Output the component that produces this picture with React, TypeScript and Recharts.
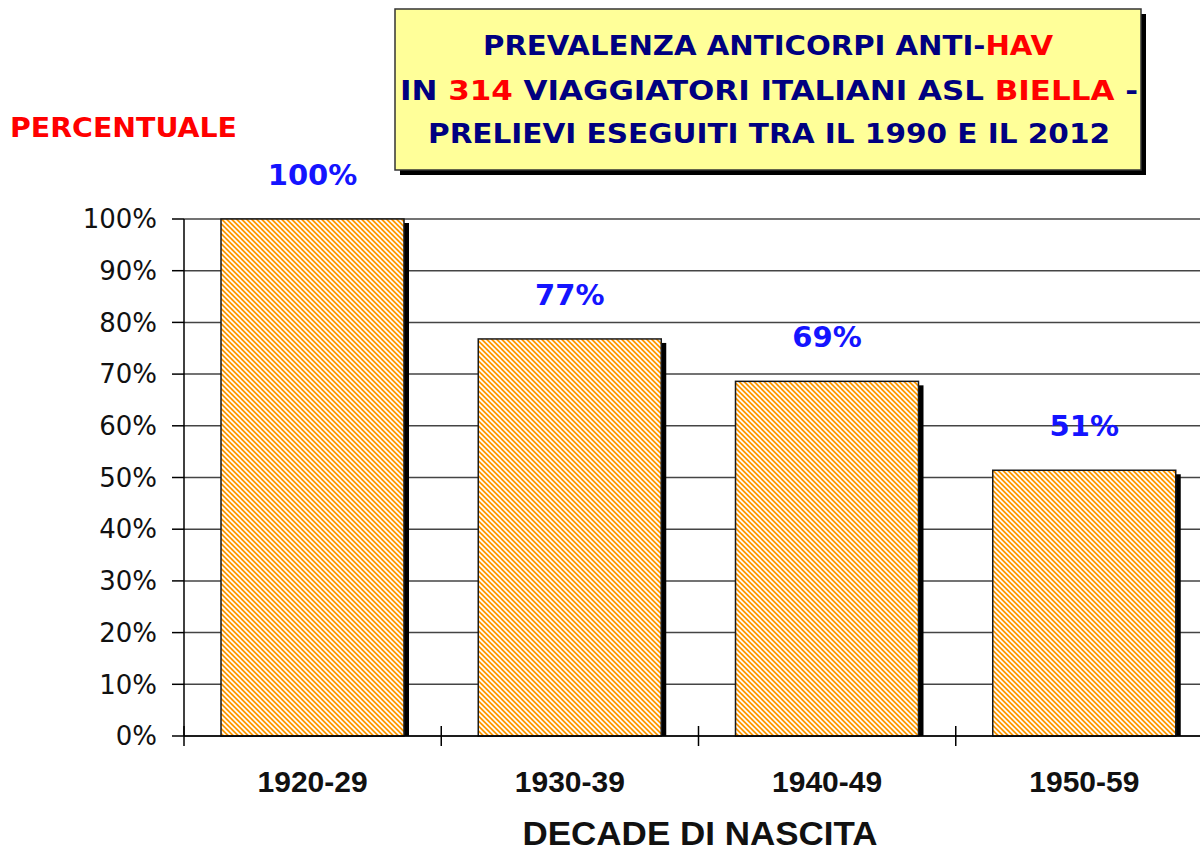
import React from 'react';
import { BarChart, Bar, XAxis, YAxis, CartesianGrid, LabelList } from 'recharts';

const categories = ['1920-29', '1930-39', '1940-49', '1950-59'];
const prevalence = [100, 76.8, 68.6, 51.4];
const valueLabels = ['100%', '77%', '69%', '51%'];
const yTicks = [0, 10, 20, 30, 40, 50, 60, 70, 80, 90, 100];

const titleLine1 = [
  { t: 'PREVALENZA ANTICORPI ANTI-', red: false },
  { t: 'HAV', red: true },
];
const titleLine2 = [
  { t: 'IN ', red: false },
  { t: '314', red: true },
  { t: ' VIAGGIATORI ITALIANI ASL ', red: false },
  { t: 'BIELLA', red: true },
  { t: ' -', red: false },
];
const titleLine3 = [{ t: 'PRELIEVI ESEGUITI TRA IL 1990 E IL 2012', red: false }];
const yAxisTitle = 'PERCENTUALE';
const xAxisTitle = 'DECADE DI NASCITA';

const data = categories.map((c, i) => ({ name: c, value: prevalence[i], label: valueLabels[i] }));

const NAVY = '#000080';
const RED = '#FF0000';

const BarShape = (props: any) => {
  const { x, y, width, height } = props;
  if (height <= 0) return null;
  return (
    <g>
      <rect x={x + 5} y={y + 4} width={width} height={height - 4} fill="#000" />
      <rect x={x} y={y} width={width} height={height} fill="url(#hatch)" stroke="#1a1a1a" strokeWidth={1.5} />
    </g>
  );
};

const XTick = (props: any) => {
  const { x, y, payload } = props;
  const off = payload && typeof payload.offset === 'number' ? payload.offset : 0;
  return (
    <g>
      <line x1={x - off} x2={x - off} y1={y - 10} y2={y + 10} stroke="#000" strokeWidth={1.5} />
      <text x={x} y={y + 56} textAnchor="middle" fontFamily="'Liberation Sans', Arial, sans-serif" fontWeight="bold" fontSize={30} fill="#111">
        {payload.value}
      </text>
    </g>
  );
};

const TopLabel = (props: any) => {
  const { x, y, width, index } = props;
  return (
    <text x={x + width / 2} y={y - 34} textAnchor="middle" fontFamily="'DejaVu Sans', sans-serif" fontWeight="bold" fontSize={29} fill="#1414FF">
      {valueLabels[index]}
    </text>
  );
};

const renderLine = (segs: { t: string; red: boolean }[], x: number, y: number, len: number) => (
  <text x={x} y={y} textAnchor="middle" textLength={len} lengthAdjust="spacingAndGlyphs" fontFamily="'DejaVu Sans', sans-serif" fontWeight="bold" fontSize={26}>
    {segs.map((s, i) => (
      <tspan key={i} fill={s.red ? RED : NAVY}>{s.t}</tspan>
    ))}
  </text>
);

export default function App() {
  return (
    <div style={{ position: 'absolute', left: 0, top: 0, width: 1200, height: 851, overflow: 'hidden', background: '#fff' }}>
      <BarChart width={1220} height={851} data={data} margin={{ top: 219, right: 7, bottom: 0, left: 0 }} barSize={183}>
        <defs>
          <pattern id="hatch" patternUnits="userSpaceOnUse" width={5} height={5}>
            <rect x={0} y={0} width={5} height={5} fill="#FF9900" />
            <path d="M-1,-1 L6,6 M-1,4 L1,6 M4,-1 L6,1" stroke="#FFFFFF" strokeWidth={1.6} />
          </pattern>
        </defs>
        <CartesianGrid vertical={false} stroke="#444" strokeWidth={1.5} />
        <XAxis dataKey="name" height={115} tickSize={0} tickMargin={0} axisLine={{ stroke: '#000', strokeWidth: 1.5 }} tickLine={false} tick={<XTick />} interval={0} />
        <YAxis
          width={184}
          domain={[0, 100]}
          ticks={yTicks}
          interval={0}
          tickFormatter={(v: number) => `${v}%`}
          tickSize={12}
          tickMargin={15}
          axisLine={{ stroke: '#000', strokeWidth: 1.5 }}
          tickLine={{ stroke: '#000', strokeWidth: 1.5 }}
          tick={{ fontFamily: "'DejaVu Sans', sans-serif", fontSize: 26, fill: '#111' }}
        />
        <Bar dataKey="value" shape={<BarShape />} isAnimationActive={false}>
          <LabelList dataKey="label" content={<TopLabel />} />
        </Bar>
      </BarChart>
      <svg width={1200} height={851} style={{ position: 'absolute', left: 0, top: 0, pointerEvents: 'none' }}>
        <rect x={400} y={14} width={746} height={161} fill="#000" />
        <rect x={395} y={9} width={746} height={161} fill="#FFFF99" stroke="#333" strokeWidth={1.5} />
        {renderLine(titleLine1, 768, 55, 570)}
        {renderLine(titleLine2, 769, 100, 738)}
        {renderLine(titleLine3, 769, 143, 682)}
        <text x={10} y={137} textLength={227} lengthAdjust="spacingAndGlyphs" fontFamily="'DejaVu Sans', sans-serif" fontWeight="bold" fontSize={26} fill={RED}>
          {yAxisTitle}
        </text>
        <text x={700} y={845} textAnchor="middle" textLength={355} lengthAdjust="spacingAndGlyphs" fontFamily="'Liberation Sans', Arial, sans-serif" fontWeight="bold" fontSize={33} fill="#111">
          {xAxisTitle}
        </text>
      </svg>
    </div>
  );
}
